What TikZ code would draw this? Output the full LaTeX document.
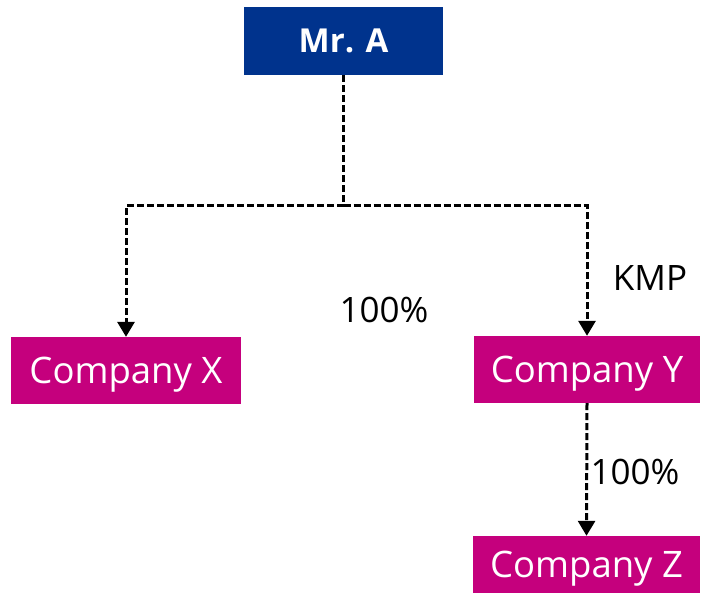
\documentclass[tikz,border=0pt]{standalone}
\usepackage{fontspec}
\setmainfont{Open Sans}
\usetikzlibrary{arrows.meta}
\definecolor{ownerblue}{HTML}{00338D}
\definecolor{companypink}{HTML}{C5007D}

\begin{document}
\begin{tikzpicture}[x=1pt,y=-1pt,
    owner_node/.style={fill=ownerblue,text=white,font=\fontsize{33}{40}\selectfont\bfseries,inner sep=0pt,minimum width=199pt,minimum height=68pt},
    company_node/.style={fill=companypink,text=white,font=\fontsize{36.5}{40}\selectfont,inner sep=0pt,text depth=0pt,minimum height=67pt},
    link/.style={black,line width=3pt,dash pattern=on 7pt off 3pt,-{Triangle[width=17pt,length=15pt]}},
    plain_link/.style={black,line width=3pt,dash pattern=on 7pt off 3pt},
    share_label/.style={text=black,font=\fontsize{35}{40}\selectfont,inner sep=0pt}]
  \useasboundingbox (0,0) rectangle (701,593);
\node[owner_node] (mrA) at (343.5,41) {Mr. A};
\node[company_node,minimum width=230pt] (compX) at (126,370.5) {Company X};
\node[company_node,minimum width=226pt] (compY) at (587,369.5) {Company Y};
\node[company_node,minimum width=227pt,minimum height=57pt] (compZ) at (586.5,564.5) {Company Z};
\coordinate (split) at (343.5,206);
\node[share_label] (kmp) at (650,278) {KMP};
\node[share_label] (pctX) at (384,310) {100\%};
\node[share_label] (pctZ) at (635,472) {100\%};
\draw[plain_link] (mrA.south) -- (split);
\draw[link] (split) -| (compX.north);
\draw[link] (split) -| (compY.north);
\draw[link] (compY.south) -- (compZ.north);
\end{tikzpicture}
\end{document}
